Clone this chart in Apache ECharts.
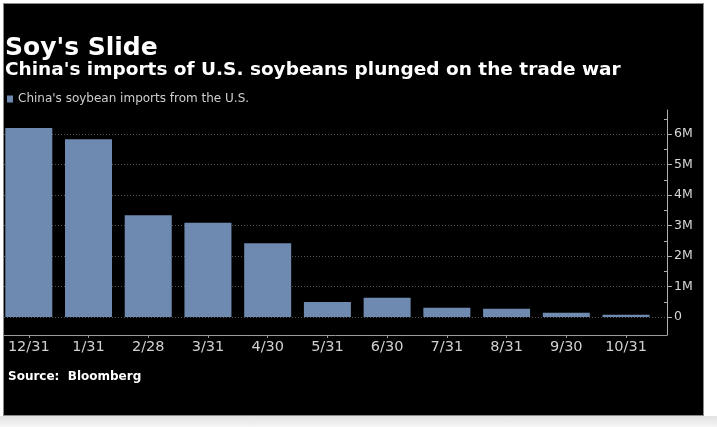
<!DOCTYPE html>
<html>
<head>
<meta charset="utf-8">
<title>Soy's Slide</title>
<script src="https://cdn.jsdelivr.net/npm/echarts@6/dist/echarts.min.js"></script>
<style>
	html, body { margin: 0; padding: 0; background: #fff; }
	#wrap { position: relative; width: 717px; height: 427px; overflow: hidden; }
	#panel { position: absolute; left: 3px; top: 3px; width: 699px; height: 411px; background: #000; border: 1px solid #8a8a8a; }
	#strip { position: absolute; left: 0; top: 416px; width: 717px; height: 11px; background: linear-gradient(#e2e2e2, #f6f6f6); }
	#main { position: absolute; left: 0; top: 0; width: 717px; height: 427px; }
</style>
</head>
<body>
<div id="wrap">
	<div id="panel"></div>
	<div id="strip"></div>
	<div id="main"></div>
</div>
<script>
	// month-end dates (Dec 2017 - Oct 2018)
	var dates = ["12/31", "1/31", "2/28", "3/31", "4/30", "5/31", "6/30", "7/31", "8/31", "9/30", "10/31"];
	// soybean imports from the U.S., million tonnes
	var imports = [6.2, 5.83, 3.34, 3.09, 2.42, 0.49, 0.63, 0.30, 0.27, 0.14, 0.07];
	var yTicks = [0, 1, 2, 3, 4, 5, 6];
	var yMinor = [0.5, 1.5, 2.5, 3.5, 4.5, 5.5, 6.5];

	var barData = [];
	for (var i = 0; i < imports.length; i++) {
		barData.push([i, imports[i]]);
	}
	var xIdx = [];
	for (var j = 0; j < dates.length; j++) xIdx.push(j);

	var font = "DejaVu Sans";
	var myChart = echarts.init(document.getElementById('main'));

	var option = {
		backgroundColor: 'transparent',
		animation: false,
		title: [{
			text: "Soy's Slide",
			left: 5, top: 36, padding: 0,
			textStyle: { color: '#fff', fontFamily: font, fontWeight: 'bold', fontSize: 25 }
		}, {
			text: "China's imports of U.S. soybeans plunged on the trade war",
			left: 5, top: 61, padding: 0,
			textStyle: { color: '#fff', fontFamily: font, fontWeight: 'bold', fontSize: 18.5 }
		}, {
			text: "Source:  Bloomberg",
			left: 8, top: 371, padding: 0,
			textStyle: { color: '#fff', fontFamily: font, fontWeight: 'bold', fontSize: 12 }
		}],
		legend: {
			left: 7, top: 93, padding: 0,
			itemWidth: 6, itemHeight: 7, icon: 'rect',
			textStyle: { color: '#cfcfcf', fontFamily: font, fontSize: 12 },
			data: ["China's soybean imports from the U.S."]
		},
		grid: {
			left: 4, right: 50, top: 110, bottom: 92,
			outerBoundsMode: 'none'
		},
		xAxis: {
			type: 'value',
			min: -0.415, max: 10.686,
			splitLine: { show: false },
			axisLine: { show: true, onZero: false, lineStyle: { color: '#9a9a9a', width: 1 } },
			axisTick: { show: true, customValues: xIdx, length: 3, lineStyle: { color: '#9a9a9a' } },
			axisLabel: {
				customValues: xIdx,
				color: '#d0d0d0', fontFamily: font, fontSize: 14.5, margin: 5,
				formatter: function (v) { return dates[Math.round(v)]; }
			}
		},
		yAxis: [{
			type: 'value',
			position: 'right',
			min: -0.59, max: 6.787,
			axisLine: { show: true, onZero: false, lineStyle: { color: '#b0b0b0', width: 1 } },
			axisTick: { show: true, customValues: yTicks, length: 5, lineStyle: { color: '#b0b0b0' } },
			axisLabel: {
				customValues: yTicks,
				color: '#d8d8d8', fontFamily: font, fontSize: 12.5, margin: 7,
				formatter: function (v) { return v === 0 ? '0' : v + 'M'; }
			},
			splitLine: { show: true, lineStyle: { color: '#505050', type: [1, 2], width: 1 } }
		}, {
			type: 'value',
			position: 'right',
			min: -0.59, max: 6.787,
			axisLine: { show: false, onZero: false },
			axisTick: { show: true, inside: true, customValues: yMinor, length: 3, lineStyle: { color: '#b0b0b0' } },
			axisLabel: { show: false },
			splitLine: { show: false }
		}],
		series: [{
			name: "China's soybean imports from the U.S.",
			type: 'bar',
			yAxisIndex: 0,
			barWidth: 47,
			itemStyle: { color: '#6f8ab0' },
			data: barData
		}]
	};
	myChart.setOption(option);
</script>
</body>
</html>
